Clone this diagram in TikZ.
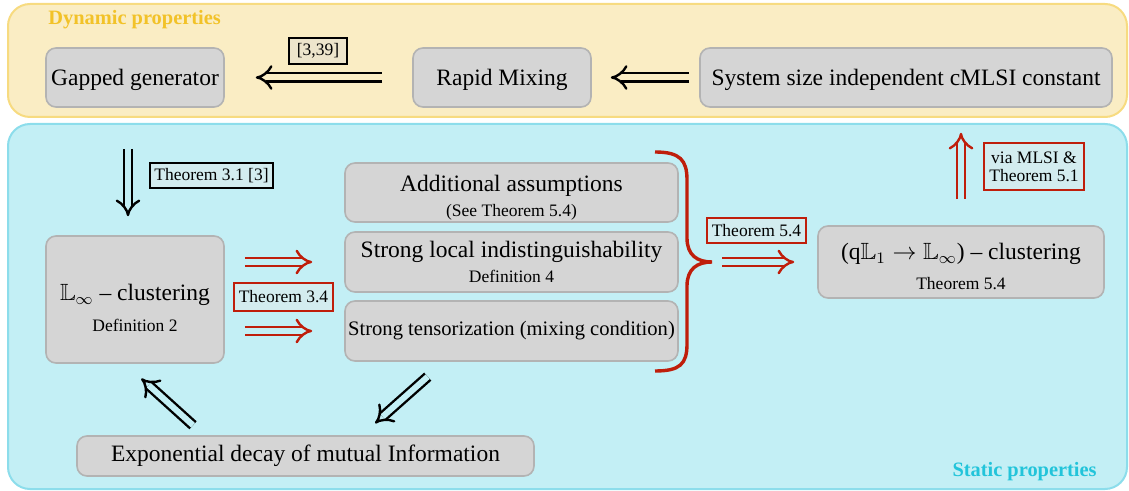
\documentclass[tikz,border=0pt]{standalone}
\usepackage{fontspec}
\setmainfont{Liberation Serif}
\usepackage{amssymb}
\usetikzlibrary{arrows.meta}

\definecolor{dynfill}{RGB}{250,237,196}
\definecolor{dynline}{RGB}{247,219,128}
\definecolor{dyntitle}{RGB}{242,194,40}
\definecolor{statfill}{RGB}{195,239,245}
\definecolor{statline}{RGB}{140,221,235}
\definecolor{stattitle}{RGB}{34,196,218}
\definecolor{boxgray}{RGB}{213,213,213}
\definecolor{boxline}{RGB}{179,179,179}
\definecolor{redc}{RGB}{191,30,11}
\definecolor{lblfill}{RGB}{211,236,239}
\definecolor{citefill}{RGB}{237,229,204}

\newcommand\mainsize{\fontsize{11.75}{13.5}\selectfont}
\newcommand\lblsize{\fontsize{8.75}{10}\selectfont}

\tikzset{
  panel/.style={rounded corners=11pt, line width=1pt},
  box/.style={draw=boxline, fill=boxgray, rounded corners=5pt, line width=0.8pt, align=center, inner sep=1pt, font=\mainsize},
  lbl/.style={draw=#1, fill=lblfill, line width=1pt, inner sep=1pt, font=\lblsize, align=center},
  dimp/.style={double=#1, double distance=3pt, line width=1.2pt, -{Implies[length=6pt,width=14pt]}},
}

\begin{document}
\begin{tikzpicture}[x=0.5pt, y=-0.5pt]
       \useasboundingbox (0,0) rectangle (1129,491);
       %Panels
       \draw[panel, draw=dynline, fill=dynfill] (8,4) rectangle (1127,117);
       \draw[panel, draw=statline, fill=statfill] (8,124) rectangle (1127,489);
       \node[anchor=west, text=dyntitle, font=\fontsize{10.2}{12}\selectfont\bfseries, inner sep=0pt] (dyntitle) at (48,20) {Dynamic properties};
       \node[anchor=east, text=stattitle, font=\fontsize{10.2}{12}\selectfont\bfseries, inner sep=0pt] (stattitle) at (1097,472) {Static properties};

       %Defining nodes
       \node[box, minimum width=89pt, minimum height=29.5pt] (gap) at (135,77.5) {\rule{0pt}{11pt}Gapped generator};
       \node[box, minimum width=89pt, minimum height=29.5pt] (rapid) at (502,77.5) {\rule{0pt}{11pt}Rapid Mixing};
       \node[box, minimum width=206pt, minimum height=29.5pt] (cmlsi) at (906,77.5) {\rule{0pt}{11pt}System size independent cMLSI constant};

       \node[box, minimum width=89pt, minimum height=63.5pt] (linf) at (135,299.5) {\rule{0pt}{17pt}$\mathbb{L}_\infty$ -- clustering\\[2pt]{\lblsize Definition 2}};

       \node[box, minimum width=166.5pt, minimum height=29.5pt] (addl) at (511.5,192.5) {\rule{0pt}{13pt}Additional assumptions\\[-1pt]{\lblsize (See Theorem 5.4)}};
       \node[box, minimum width=166.5pt, minimum height=30pt] (sli) at (511.5,262) {Strong local indistinguishability\\[-1pt]{\lblsize Definition 4}};
       \node[box, minimum width=166.5pt, minimum height=30pt, font=\fontsize{10.3}{12}\selectfont] (stens) at (511.5,331) {Strong tensorization (mixing condition)};

       \node[box, minimum width=143pt, minimum height=36pt] (qclust) at (961,262) {\rule{0pt}{13pt}(q$\mathbb{L}_1 \rightarrow \mathbb{L}_\infty$) -- clustering\\[1.5pt]{\lblsize Theorem 5.4}};

       \node[box, minimum width=228.5pt, minimum height=20pt] (expdec) at (305.5,456) {Exponential decay of mutual Information};

       %Labels
       \node[lbl=black, fill=citefill, minimum width=29pt, minimum height=13pt] (cite) at (318,51) {[3,39]};
       \node[lbl=black, minimum width=61.5pt, minimum height=12.5pt] (thmA) at (211.5,175.5) {Theorem 3.1 [3]};
       \node[lbl=redc, minimum width=49.5pt, minimum height=14pt] (thmB) at (283.5,297) {Theorem 3.4};
       \node[lbl=redc, minimum width=49.5pt, minimum height=12.5pt] (thmC) at (756.5,230.5) {Theorem 5.4};
       \node[lbl=redc, minimum width=50pt, minimum height=23.5pt] (thmD) at (1034,166.5) {via MLSI \&\\[-1pt]Theorem 5.1};

       \coordinate (bracetop) at (655,152);
       \coordinate (bracebot) at (655,371);
       \coordinate (bracetip) at (712,262);

       %Drawing Diagram
       \draw[dimp=dynfill, shorten <=15pt, shorten >=15.5pt] (rapid.west) -- (gap.east);
       \draw[dimp=dynfill, shorten <=5pt, shorten >=9.5pt] (cmlsi.west) -- (rapid.east);
       \draw[dimp=statfill, shorten <=20.5pt, shorten >=9.5pt] ([xshift=-3.5pt]gap.south) -- ([xshift=-3.5pt]linf.north);
       \draw[dimp=statfill, draw=redc, shorten <=10pt, shorten >=16pt] (linf.east |- sli.west) -- (sli.west);
       \draw[dimp=statfill, draw=redc, shorten <=10pt, shorten >=16pt] (linf.east |- stens.west) -- (stens.west);
       \draw[redc, line width=1.7pt] (bracetop) .. controls (680,152) and (687,160) .. (687,180) -- (687,238)
             .. controls (687,255) and (697,262) .. (bracetip)
             .. controls (697,262) and (687,269) .. (687,286) -- (687,344)
             .. controls (687,364) and (680,371) .. (bracebot);
       \draw[dimp=statfill, draw=redc, shorten <=5pt, shorten >=11.5pt] (bracetip) -- (qclust.west);
       \draw[dimp=statfill, draw=redc, shorten <=13pt, shorten >=12.5pt] (qclust.north) -- (qclust.north |- cmlsi.south);
       \draw[dimp=statfill, shorten <=7.4pt, shorten >=11pt] ([xshift=-50.75pt]expdec.north) -- ([xshift=-5pt]linf.south);
       \draw[dimp=statfill, shorten <=11.2pt, shorten >=9pt] ([xshift=-33.5pt]stens.south) -- ([xshift=28.1pt]expdec.north);
\end{tikzpicture}
\end{document}
